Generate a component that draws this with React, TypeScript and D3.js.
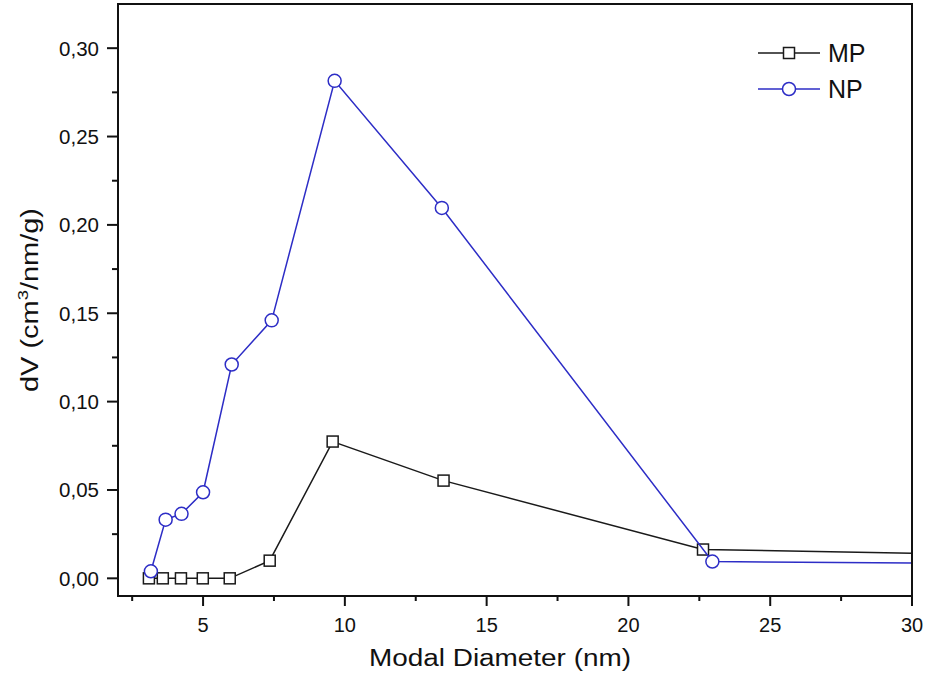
import React from "react";
import * as d3 from "d3";

const mpX = [3.09, 3.58, 4.22, 4.99, 5.94, 7.35, 9.57, 13.48, 22.63, 40];
const mpY = [0.0, 0.0, 0.0, 0.0, 0.0, 0.010, 0.0774, 0.0553, 0.0163, 0.0114];
const npX = [3.16, 3.68, 4.24, 5.0, 6.01, 7.42, 9.64, 13.42, 22.96, 40];
const npY = [0.004, 0.0332, 0.0365, 0.0487, 0.121, 0.146, 0.2815, 0.2096, 0.0095, 0.0076];
const xTicks = [5, 10, 15, 20, 25, 30];
const xMinor = [2.5, 7.5, 12.5, 17.5, 22.5, 27.5];
const yTicks = [0, 0.05, 0.1, 0.15, 0.2, 0.25, 0.3];
const yMinor = [0.025, 0.075, 0.125, 0.175, 0.225, 0.275];
const seriesNames = ["MP", "NP"];

const W = 927, H = 673;
const L = 118, R = 912, T = 4, B = 596;

export default function App() {
  const x = d3.scaleLinear().domain([2, 30]).range([L, R]);
  const y = d3.scaleLinear().domain([-0.01, 0.325]).range([B, T]);
  const mp = mpX.map((v, i) => [v, mpY[i]] as [number, number]);
  const np = npX.map((v, i) => [v, npY[i]] as [number, number]);
  const line = d3.line<[number, number]>().x(d => x(d[0])).y(d => y(d[1]));
  const fmt = (v: number) => v.toFixed(2).replace(".", ",");
  const blue = "#2d2dc6";
  const black = "#1a1a1a";
  const font = "Liberation Sans, Arial, sans-serif";
  return (
    <svg width={W} height={H} style={{ position: "absolute", left: 0, top: 0, background: "#fff" }} fontFamily={font}>
      <defs>
        <clipPath id="plot"><rect x={L} y={T} width={R - L} height={B - T} /></clipPath>
      </defs>
      <g clipPath="url(#plot)">
        <path d={line(mp) || ""} fill="none" stroke={black} strokeWidth={1.5} />
        {mp.map((d, i) => (
          <rect key={"s" + i} x={x(d[0]) - 5.5} y={y(d[1]) - 5.5} width={11} height={11} fill="#fff" stroke={black} strokeWidth={1.5} />
        ))}
        <path d={line(np) || ""} fill="none" stroke={blue} strokeWidth={1.5} />
        {np.map((d, i) => (
          <circle key={"c" + i} cx={x(d[0])} cy={y(d[1])} r={6.5} fill="#fff" stroke={blue} strokeWidth={1.5} />
        ))}
      </g>
      <rect x={L} y={T} width={R - L} height={B - T} fill="none" stroke="#111" strokeWidth={2} />
      {xTicks.map(t => (
        <g key={"xt" + t}>
          <line x1={x(t)} x2={x(t)} y1={B} y2={B + 10} stroke="#111" strokeWidth={2} />
          <text x={x(t)} y={632} fontSize={20} textAnchor="middle" fill="#111">{t}</text>
        </g>
      ))}
      {xMinor.map(t => (
        <line key={"xm" + t} x1={x(t)} x2={x(t)} y1={B} y2={B + 5} stroke="#111" strokeWidth={2} />
      ))}
      {yTicks.map(t => (
        <g key={"yt" + t}>
          <line x1={L - 11} x2={L} y1={y(t)} y2={y(t)} stroke="#111" strokeWidth={2} />
          <text x={99} y={y(t)} dy="0.36em" fontSize={20.5} textAnchor="end" fill="#111">{fmt(t)}</text>
        </g>
      ))}
      {yMinor.map(t => (
        <line key={"ym" + t} x1={L - 6} x2={L} y1={y(t)} y2={y(t)} stroke="#111" strokeWidth={2} />
      ))}
      <text x={500} y={666} fontSize={23.5} textAnchor="middle" textLength={262} lengthAdjust="spacingAndGlyphs" fill="#111">Modal Diameter (nm)</text>
      <text transform="translate(38,300) rotate(-90)" fontSize={23.5} textAnchor="middle" textLength={184} lengthAdjust="spacingAndGlyphs" fill="#111">
        dV (cm<tspan fontSize={15} dy={-10}>3</tspan><tspan dy={10}>/nm/g)</tspan>
      </text>
      {seriesNames.map((n, i) => {
        const ly = 53 + i * 36;
        const c = i === 0 ? black : blue;
        return (
          <g key={n}>
            <line x1={758} x2={820} y1={ly} y2={ly} stroke={c} strokeWidth={1.5} />
            {i === 0 ? (
              <rect x={789 - 5.5} y={ly - 5.5} width={11} height={11} fill="#fff" stroke={c} strokeWidth={1.5} />
            ) : (
              <circle cx={789} cy={ly} r={6.5} fill="#fff" stroke={c} strokeWidth={1.5} />
            )}
            <text x={828} y={ly} dy="0.36em" fontSize={25} fill="#111">{n}</text>
          </g>
        );
      })}
    </svg>
  );
}
